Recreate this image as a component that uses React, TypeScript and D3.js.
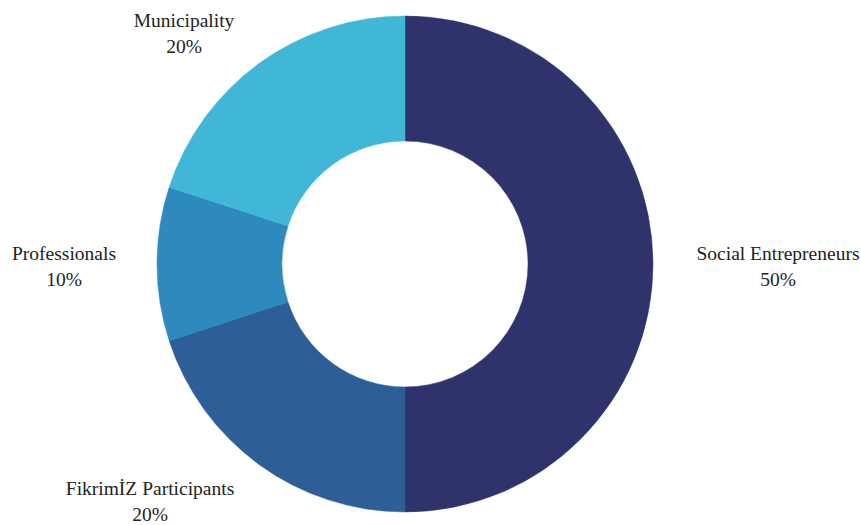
import React from "react";
import * as d3 from "d3";

const categories = ["Social Entrepreneurs", "FikrimİZ Participants", "Professionals", "Municipality"];
const values = [50, 20, 10, 20];
const colors = ["#30336b", "#2d5e98", "#2e89bc", "#41b7d7"];

const W = 861;
const H = 525;
const cx = 405;
const cy = 264;
const outerR = 248;
const innerR = 123;

type LabelPos = { x: number; y: number };
const labelPos: LabelPos[] = [
  { x: 778, y: 260 },
  { x: 150, y: 495 },
  { x: 64, y: 260 },
  { x: 184, y: 27 },
];

const fontStyle = { fontFamily: "Liberation Serif", fontSize: "19.5px" };

export default function App() {
  const pie = d3.pie<number>().sort(null).value((d) => d);
  const arcs = pie(values);
  const arc = d3.arc<d3.PieArcDatum<number>>().innerRadius(innerR).outerRadius(outerR);
  return (
    <svg width={W} height={H} style={{ position: "absolute", left: 0, top: 0, background: "#fff" }}>
      <g transform={`translate(${cx},${cy})`}>
        {arcs.map((a, i) => (
          <path key={i} d={arc(a) || ""} fill={colors[i]} stroke={colors[i]} strokeWidth={0.5} />
        ))}
      </g>
      {categories.map((c, i) => (
        <g key={c}>
          <text x={labelPos[i].x} y={labelPos[i].y} textAnchor="middle" style={fontStyle} fill="#222">
            {c}
          </text>
          <text x={labelPos[i].x} y={labelPos[i].y + 26} textAnchor="middle" style={fontStyle} fill="#222">
            {`${values[i]}%`}
          </text>
        </g>
      ))}
    </svg>
  );
}
